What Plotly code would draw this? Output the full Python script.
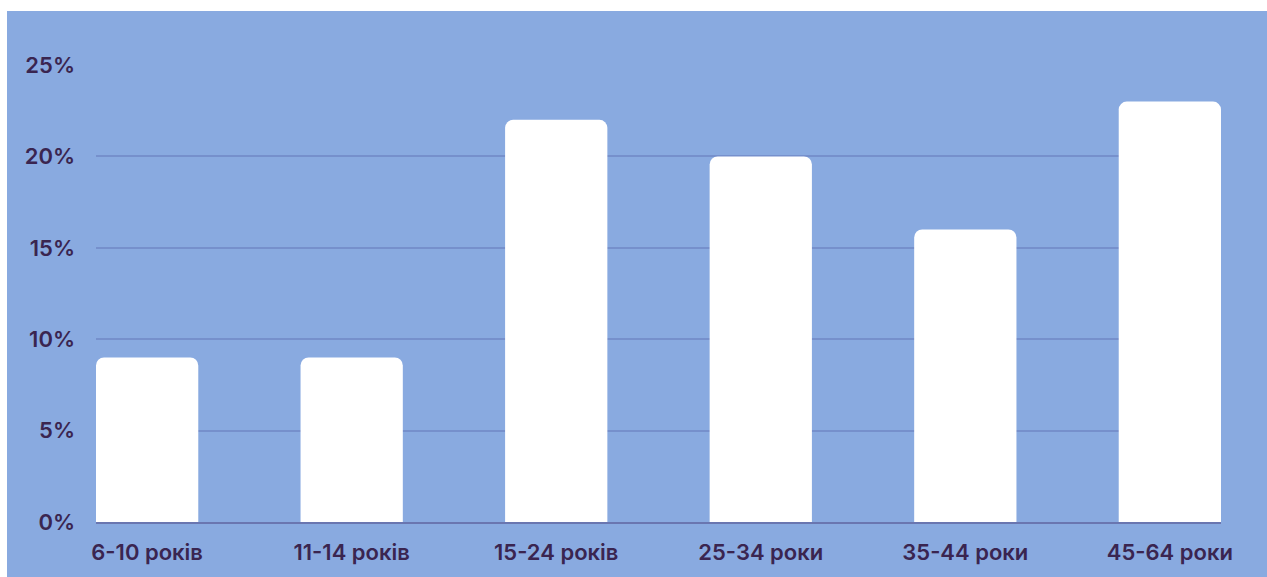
import plotly.graph_objects as go

categories = ["6-10 років", "11-14 років", "15-24 років", "25-34 роки", "35-44 роки", "45-64 роки"]
values = [9, 9, 22, 20, 16, 23]
y_ticks = [0, 5, 10, 15, 20, 25]
y_tick_labels = ["0%", "5%", "10%", "15%", "20%", "25%"]

BG = "#89aae0"
TEXT = "#3a2550"
W, H = 1267, 577
L, R, T, B = 96, 46, 65, 55
pw, ph = W - L - R, H - T - B

fig = go.Figure(go.Bar(
    x=list(range(len(categories))),
    y=values,
    width=0.5,
    marker=dict(color="white", line=dict(width=0), cornerradius=8),
    hoverinfo="skip",
))

fig.update_layout(
    width=W, height=H,
    margin=dict(l=L, r=R, t=T, b=B, pad=0),
    paper_bgcolor="white",
    plot_bgcolor="rgba(0,0,0,0)",
    font=dict(family="Inter", size=22, color=TEXT, weight=600),
    showlegend=False,
    shapes=[dict(
        type="rect", xref="paper", yref="paper", layer="below",
        x0=(7 - L) / pw, x1=(W - L) / pw + 0.01,
        y0=-B / ph - 0.01, y1=(H - T - B + (T - 11)) / ph,
        fillcolor=BG, line=dict(width=0),
    )],
    xaxis=dict(
        range=[-0.25, 5.25],
        tickmode="array", tickvals=list(range(len(categories))), ticktext=categories,
        showgrid=False, zeroline=False, showline=True, linecolor="#6a76b0", linewidth=2,
        ticks="", ticklabelstandoff=10, fixedrange=True,
    ),
    yaxis=dict(
        range=[0, 25],
        tickmode="array", tickvals=y_ticks, ticktext=y_tick_labels,
        showgrid=True, gridcolor="#7690cc", gridwidth=1.5,
        zeroline=False, showline=False, ticks="", ticklabelstandoff=20, fixedrange=True,
    ),
)

fig.write_html("out.html", config={"displayModeBar": False})
